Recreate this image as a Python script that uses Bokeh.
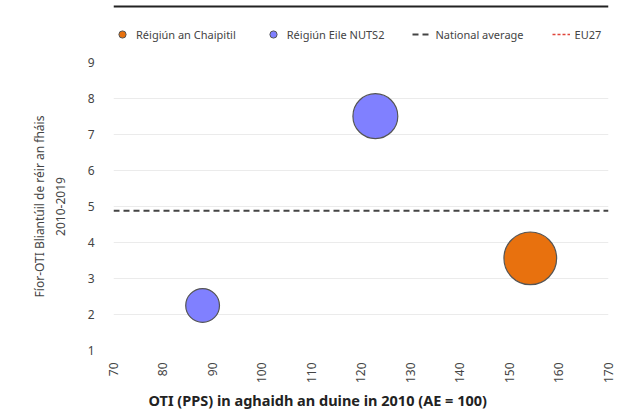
from bokeh.plotting import figure
from bokeh.models import Legend, LegendItem, Title, FixedTicker, Range1d, Span
from bokeh.layouts import column
from bokeh.embed import file_html
from bokeh.resources import INLINE

# ---- data ----
series_names = ["Réigiún an Chaipitil", "Réigiún Eile NUTS2"]
capital_x = [154.2]
capital_y = [3.56]
capital_pop = [2.8]
other_x = [88.0, 122.9]
other_y = [2.25, 7.51]
other_pop = [1.15, 2.03]
national_average = 4.88
line_names = ["National average", "EU27"]
x_ticks = [70, 80, 90, 100, 110, 120, 130, 140, 150, 160, 170]
y_ticks = [1, 2, 3, 4, 5, 6, 7, 8, 9]
x_title = "OTI (PPS) in aghaidh an duine in 2010 (AE = 100)"
y_title = "Fíor-OTI Bliantúil de réir an fháis\n2010-2019"

FONT = "Noto Sans"
TXT = "#444444"
ORANGE = "#e8710e"
BLUE = "#8080ff"
EDGE = "#555555"
NAT_COL = "#444444"
EU_COL = "#e0453a"
SIZE_K = 31.5  # px diameter per sqrt(pop)

def sizes(pops):
    return [SIZE_K * p ** 0.5 for p in pops]

# ---------------- main plot ----------------
p = figure(width=616, height=359, output_backend="svg", toolbar_location=None,
           x_range=Range1d(x_ticks[0], x_ticks[-1]),
           y_range=Range1d(y_ticks[0], y_ticks[-1]),
           min_border_left=113, min_border_right=8, min_border_top=11,
           min_border_bottom=20)
p.outline_line_color = None
p.xgrid.grid_line_color = None
p.ygrid.grid_line_color = "#ebebeb"

p.xaxis.ticker = FixedTicker(ticks=x_ticks)
p.yaxis.ticker = FixedTicker(ticks=y_ticks)
for ax in (p.xaxis, p.yaxis):
    ax.axis_line_color = None
    ax.major_tick_line_color = None
    ax.minor_tick_line_color = None
    ax.major_label_text_font = FONT
    ax.major_label_text_font_size = "12px"
    ax.major_label_text_color = TXT
p.xaxis.major_label_orientation = 3.14159 / 2
p.xaxis.major_label_standoff = 6
p.yaxis.major_label_standoff = 13

p.yaxis.axis_label = y_title
p.yaxis.axis_label_text_font = FONT
p.yaxis.axis_label_text_font_size = "12px"
p.yaxis.axis_label_text_font_style = "normal"
p.yaxis.axis_label_text_color = TXT
p.yaxis.axis_label_standoff = 16

t = Title(text=x_title, align="left", offset=35, text_font=FONT,
          text_font_size="14.5px", text_font_style="bold", text_color="#222222",
          standoff=2)
p.add_layout(t, "below")

p.line(x=[x_ticks[0], x_ticks[-1]], y=[national_average, national_average],
       line_color=NAT_COL, line_width=2, line_dash="6 4")
p.scatter(x=other_x, y=other_y, size=sizes(other_pop), marker="circle",
          fill_color=BLUE, line_color=EDGE, line_width=1.2)
p.scatter(x=capital_x, y=capital_y, size=sizes(capital_pop), marker="circle",
          fill_color=ORANGE, line_color=EDGE, line_width=1.2)

# ---------------- legend strip (proxies lie outside its view) ----------------
lg = figure(width=616, height=51, output_backend="svg", toolbar_location=None,
            x_range=Range1d(0, 1), y_range=Range1d(0, 51),
            x_axis_location=None, y_axis_location=None,
            min_border=0, min_border_left=0, min_border_right=0,
            min_border_top=0, min_border_bottom=0)
lg.grid.visible = False
lg.outline_line_color = None
lg.add_layout(Span(location=45, dimension="width", line_color="#222222",
                   line_width=2))
l_cap = lg.scatter(x=capital_x, y=capital_y, marker="circle",
                   fill_color=ORANGE, line_color=EDGE)
l_oth = lg.scatter(x=other_x, y=other_y, marker="circle",
                   fill_color=BLUE, line_color=EDGE)
l_nat = lg.line(x=[x_ticks[0], x_ticks[-1]], y=[national_average, national_average],
                line_color=NAT_COL, line_width=2, line_dash="6 4")
l_eu = lg.line(x=[x_ticks[0], x_ticks[-1]], y=[national_average, national_average],
               line_color=EU_COL, line_width=1.5, line_dash="3 2")

legend = Legend(items=[
    LegendItem(label=series_names[0], renderers=[l_cap]),
    LegendItem(label=series_names[1], renderers=[l_oth]),
    LegendItem(label=line_names[0], renderers=[l_nat]),
    LegendItem(label=line_names[1], renderers=[l_eu]),
], orientation="horizontal", location=(0, 7))
legend.label_text_font = FONT
legend.label_text_font_size = "11px"
legend.label_text_color = TXT
legend.glyph_width = 18
legend.glyph_height = 20
legend.label_standoff = 5
legend.spacing = 28
legend.padding = 0
legend.margin = 0
legend.border_line_color = None
legend.background_fill_alpha = 0
lg.add_layout(legend, "center")

layout = column(lg, p, spacing=0)

open("out.html", "w").write(file_html(layout, INLINE))
